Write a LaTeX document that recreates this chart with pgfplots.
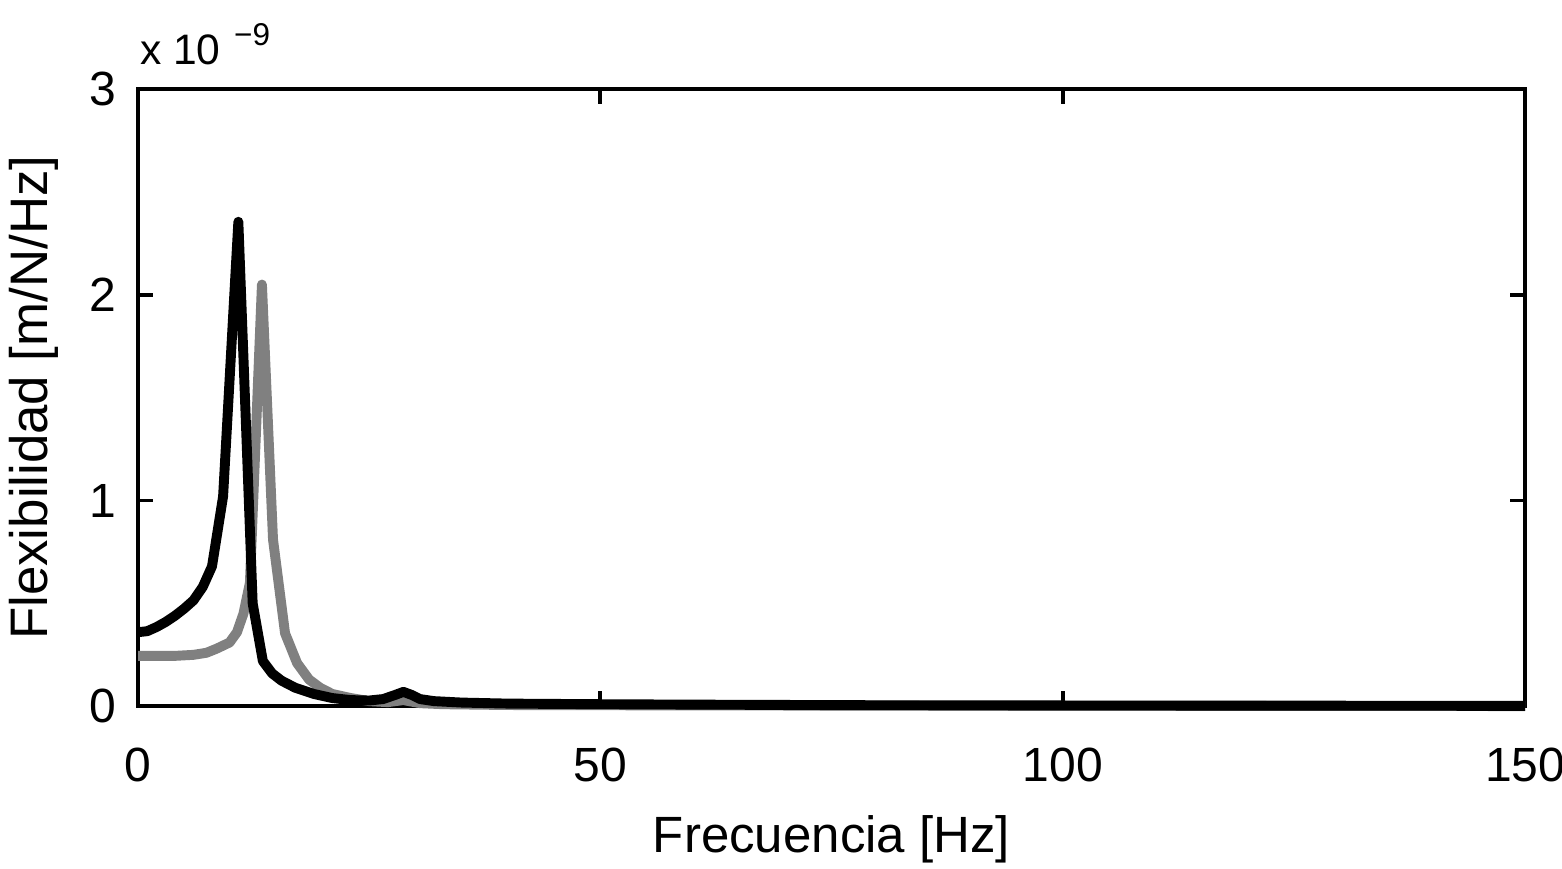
\documentclass[border=0pt]{standalone}
\usepackage{fontspec}
\setmainfont{Liberation Sans}
\usepackage{pgfplots}
\pgfplotsset{compat=1.18}
\definecolor{curvegray}{RGB}{128,128,128}

\begin{document}
\begin{tikzpicture}
\begin{axis}[
    name=ax,
    scale only axis,
    width=462.3pt, height=205.7pt,
    xmin=0, xmax=150, ymin=0, ymax=3,
    xtick={0,50,100,150}, ytick={0,1,2,3},
    tick align=inside, major tick length=5pt,
    tick style={line width=1.3pt, black},
    axis line style={line width=1.3pt},
    font=\fontsize{16}{20}\selectfont,
    /pgf/number format/assume math mode=true,
    xticklabel style={yshift=-10.3pt},
    yticklabel style={xshift=-3.7pt},
    xlabel={Frecuencia [Hz]},
    ylabel={Flexibilidad [m/N/Hz]},
    xlabel style={at={(axis description cs:0.5,-0.2367)}, anchor=base, font=\fontsize{17}{20}\selectfont},
    ylabel style={at={(axis description cs:-0.065,0.5)}, anchor=base, font=\fontsize{17.6}{20}\selectfont},
    clip=false,
]
% gray curve
\addplot[curvegray, line width=3.3pt, line join=round] coordinates {
(0,0.245) (2,0.245) (4,0.245) (6,0.25) (7.4,0.26) (8.5,0.28) (9.9,0.31)
(10.7,0.36) (11.4,0.45) (12.1,0.6) (13.4,2.05) (14.6,0.81) (15.9,0.355)
(17.2,0.21) (18.5,0.13) (19.7,0.09) (21,0.06) (23,0.04) (25,0.025)
(27,0.02) (28.7,0.03) (30.5,0.015) (33,0.01) (40,0.006) (60,0.004)
(100,0.002) (150,0.001)
};
% black curve
\addplot[black, line width=3.3pt, line join=round] coordinates {
(0,0.36) (1,0.365) (2,0.385) (3,0.41) (4,0.44) (5,0.475) (6,0.515)
(7,0.58) (8,0.68) (9.2,1.02) (10.85,2.355) (12.4,0.5) (13.5,0.22)
(14.5,0.16) (15.5,0.125) (17,0.09) (19,0.06) (21,0.04) (23,0.03)
(25,0.028) (26.5,0.035) (27.8,0.055) (28.7,0.07) (29.6,0.055)
(30.5,0.035) (32,0.025) (35,0.018) (40,0.013) (50,0.01) (60,0.008)
(80,0.005) (100,0.004) (150,0.002)
};
\node[anchor=base west, inner sep=0pt, font=\fontsize{14.2}{16}\selectfont]
  at (axis description cs:0,1) [yshift=8.3pt, xshift=0.5pt]
  {x 10\hspace{4.5pt}\raisebox{6.2pt}{\fontsize{10.5}{12}\selectfont −9}};
\end{axis}
\pgfresetboundingbox
\path ([shift={(-46pt,-54pt)}]ax.south west) rectangle ([shift={(12.3pt,29.7pt)}]ax.north east);
\end{tikzpicture}
\end{document}
